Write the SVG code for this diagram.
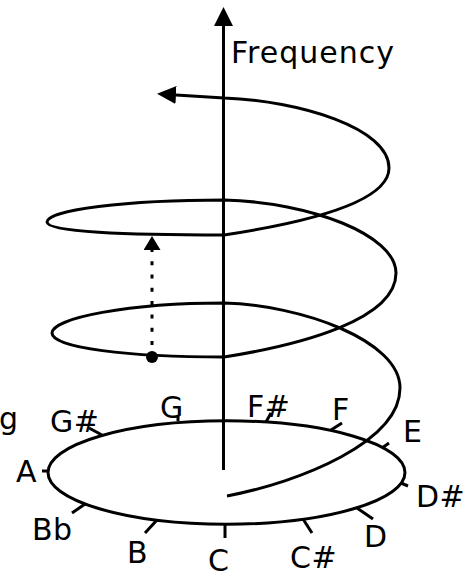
<svg xmlns="http://www.w3.org/2000/svg" width="468" height="576" viewBox="0 0 468 576">
<style>
.ln{fill:none;stroke:#000;stroke-width:3}
.tk{fill:none;stroke:#000;stroke-width:3}
text{font-family:"DejaVu Sans","Verdana",sans-serif;font-size:30px;fill:#000;letter-spacing:0.5px}
.big{font-size:30px;letter-spacing:1px}
</style>
<defs>
<marker id="ah" viewBox="0 0 20 20" refX="0" refY="10" markerWidth="19" markerHeight="19" markerUnits="userSpaceOnUse" orient="auto"><path d="M0,0 L20,10 L0,20 z" fill="#000"/></marker>
<marker id="ahs" viewBox="0 0 20 20" refX="0" refY="10" markerWidth="14" markerHeight="17" markerUnits="userSpaceOnUse" orient="auto" preserveAspectRatio="none"><path d="M0,0 L20,10 L0,20 z" fill="#000"/></marker>
<marker id="ahs2" viewBox="0 0 20 20" refX="0" refY="10" markerWidth="19" markerHeight="18" markerUnits="userSpaceOnUse" orient="auto" preserveAspectRatio="none"><path d="M0,0 L20,10 L0,20 z" fill="#000"/></marker>
</defs>
<g id="pitch-circle">
<ellipse class="ln" cx="226.5" cy="472.5" rx="178.5" ry="51.7"/>
<g id="ticks">
<line class="tk" x1="102" y1="435" x2="89" y2="428"/>
<line class="tk" x1="48" y1="471" x2="42" y2="471"/>
<line class="tk" x1="85" y1="504" x2="72" y2="513"/>
<line class="tk" x1="157" y1="520" x2="145" y2="533"/>
<line class="tk" x1="225" y1="524" x2="225" y2="538"/>
<line class="tk" x1="303" y1="519" x2="312" y2="533"/>
<line class="tk" x1="357" y1="508" x2="373" y2="519"/>
<line class="tk" x1="401" y1="483" x2="408" y2="486"/>
<line class="tk" x1="382" y1="448" x2="389" y2="443"/>
<line class="tk" x1="331" y1="430" x2="342" y2="423"/>
<line class="tk" x1="266" y1="422" x2="271" y2="413"/>
<line class="tk" x1="178" y1="421" x2="178" y2="416"/>
</g>
</g>
<g id="connectors">
<line id="axis" class="ln" x1="223.5" y1="470" x2="223.5" y2="26" marker-end="url(#ah)"/>
<path id="spiral" class="ln" d="M227,496 C300,482 400,442 400,388 C400,340 300,305 224,303 C129,303 52,318 52,333 C52,348 129,357 224,357 C300,345 396,320 396,273 C396,235 310,202 224,200 C126,200 47,210 47,222 C47,232 126,235 224,235 C290,225 389,205 389,168 C389,128 300,101 224,98 L176,95" marker-end="url(#ahs2)"/>
<line id="octave" class="ln" x1="152" y1="345" x2="152" y2="250" stroke-dasharray="4 9.3" marker-end="url(#ahs)"/>
<circle id="start-dot" cx="152" cy="357" r="6" fill="#000"/>
</g>
<g id="labels">
<g id="lbl-freq"><text class="big" x="231" y="63">Frequency</text></g>
<g id="lbl-g"><text x="-1" y="429">g</text></g>
<g id="lbl-Gs"><text x="50" y="432">G#</text></g>
<g id="lbl-G"><text x="160" y="418">G</text></g>
<g id="lbl-Fs"><text x="247" y="417">F#</text></g>
<g id="lbl-F"><text x="332" y="420">F</text></g>
<g id="lbl-E"><text x="403" y="442">E</text></g>
<g id="lbl-Ds"><text x="416" y="507">D#</text></g>
<g id="lbl-D"><text x="364" y="547">D</text></g>
<g id="lbl-Cs"><text x="290" y="568">C#</text></g>
<g id="lbl-C"><text x="208" y="571">C</text></g>
<g id="lbl-B"><text x="127" y="563">B</text></g>
<g id="lbl-Bb"><text x="32" y="540">Bb</text></g>
<g id="lbl-A"><text x="16" y="482">A</text></g>
</g>
</svg>
